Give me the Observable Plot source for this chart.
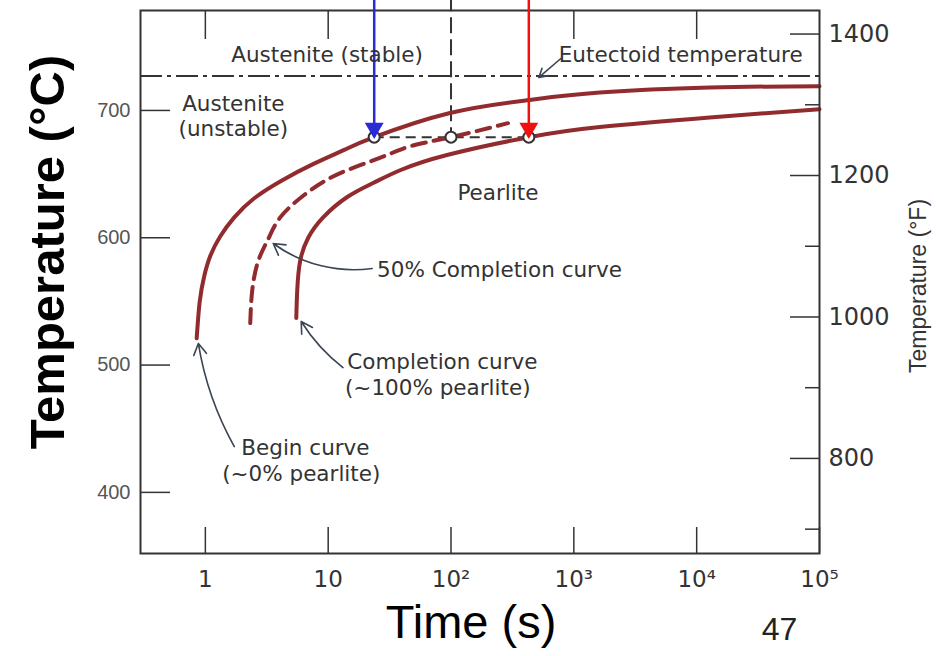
<!DOCTYPE html>
<html>
<head>
<meta charset="utf-8">
<script src="https://cdn.jsdelivr.net/npm/d3@7"></script>
<script src="https://cdn.jsdelivr.net/npm/@observablehq/plot@0.6"></script>
<style>
  html, body { margin: 0; padding: 0; background: white; }
</style>
</head>
<body>
<div id="chart"></div>
<script>
// ---- axes ----
const timeTicks = [1, 10, 100, 1000, 10000, 100000];
const timeTickLabels = ["1", "10", "10²", "10³", "10⁴", "10⁵"];
const topTicks = [1, 10, 1000, 10000];
const celsiusTicks = [400, 500, 600, 700];
const fahrenheitMajor = [800, 1000, 1200, 1400];
const fahrenheitMinor = [700, 900, 1100, 1300];

// ---- curves (time s, temperature °C) ----
const beginTime = [0.85, 0.9, 0.98, 1.1, 1.32, 1.72, 2.5, 4.2, 7.6, 13.5, 23.7, 98, 415, 1626, 12760, 100000];
const beginTemp = [521, 550, 570, 586, 601, 616, 631, 645, 658, 669, 679, 698, 708, 714, 718, 719];
const halfTime = [2.32, 2.41, 2.70, 3.25, 4.07, 6.26, 10.4, 18.2, 30.2, 49, 100, 291];
const halfTemp = [533, 559, 582, 599, 616, 633, 647, 657, 665, 672.5, 679, 690];
const endTime = [5.5, 5.6, 5.92, 6.88, 9.1, 14.3, 23.2, 38.5, 92.8, 430, 1626, 12760, 100000];
const endTemp = [537, 559, 582, 600, 616, 632, 643, 653, 665, 679, 687, 694.5, 701];

// ---- isothermal path ----
const eutectoidTemp = 727;
const isothermTemp = 679;
const isothermTimes = [23.7, 100, 430];
const arrowTop = 790;
const markerTimes = [23.7, 430];
const markerColors = ["#2a2ad6", "#f01010"];

// ---- annotations ----
const labelText = ["Austenite (stable)", "Eutectoid temperature", "Austenite", "(unstable)", "Pearlite"];
const labelTime = [9.8, 7413, 1.69, 1.69, 241];
const labelTemp = [743.2, 743.2, 704.7, 685.1, 634.8];
const noteText = ["50% Completion curve", "Completion curve", "(~100% pearlite)", "Begin curve", "(~0% pearlite)"];
const noteTime = [25, 14.3, 13.7, 1.96, 1.37];
const noteTemp = [574.3, 502, 481.6, 434.5, 414];
const pointerFromTime = [784, 22.8, 13.2, 1.72];
const pointerFromTemp = [740.8, 575.9, 498, 436];
const pointerToTime = [519, 3.57, 6.03, 0.877];
const pointerToTemp = [725.9, 595.5, 534.2, 517];
const pointerBend = [0, 22, 10, 10];

const curveColor = "#922b2e";
const ink = "#333";
const toPts = (ts, cs) => ts.map((t, i) => ({t, c: cs[i]}));
const cToF = c => c * 9 / 5 + 32;
const fToC = f => (f - 32) * 5 / 9;

const labels = labelText.map((s, i) => ({s, t: labelTime[i], c: labelTemp[i]}));
const notes = noteText.map((s, i) => ({s, t: noteTime[i], c: noteTemp[i]}));
const pointers = pointerFromTime.map((t, i) => ({
  t1: t, c1: pointerFromTemp[i], t2: pointerToTime[i], c2: pointerToTemp[i], bend: pointerBend[i]
}));
const markers = markerTimes.map((t, i) => ({t, color: markerColors[i]}));

const chart = Plot.plot({
  width: 938,
  height: 656,
  marginLeft: 140,
  marginRight: 119,
  marginTop: 10,
  marginBottom: 103,
  style: {fontFamily: "DejaVu Sans", fontSize: "18px", background: "white", overflow: "visible"},
  x: {type: "log", domain: [Math.pow(10, -0.528), 100000], label: null},
  y: {domain: [352, 778.5], label: null},
  marks: [
    // eutectoid line
    Plot.ruleY([eutectoidTemp], {stroke: ink, strokeWidth: 2, strokeDasharray: "22,5,4,5"}),
    // isothermal dashed path
    Plot.ruleX([isothermTimes[1]], {y1: arrowTop, y2: isothermTemp, stroke: ink, strokeWidth: 2, strokeDasharray: "16,6"}),
    Plot.ruleY([isothermTemp], {x1: isothermTimes[0], x2: isothermTimes[2], stroke: ink, strokeWidth: 2, strokeDasharray: "10,6"}),
    // curves
    Plot.line(toPts(beginTime, beginTemp), {x: "t", y: "c", stroke: curveColor, strokeWidth: 4, curve: "natural"}),
    Plot.line(toPts(halfTime, halfTemp), {x: "t", y: "c", stroke: curveColor, strokeWidth: 4, curve: "natural", strokeDasharray: "14,8"}),
    Plot.line(toPts(endTime, endTemp), {x: "t", y: "c", stroke: curveColor, strokeWidth: 4, curve: "natural"}),
    Plot.dot(isothermTimes, {x: d => d, y: () => isothermTemp, r: 5.5, fill: "white", stroke: ink, strokeWidth: 2}),
    // frame
    Plot.frame({stroke: ink, strokeWidth: 2}),
    // left axis
    Plot.axisY(celsiusTicks, {anchor: "left", tickSize: -30, tickFormat: () => "", stroke: ink, strokeWidth: 1.5}),
    Plot.axisY(celsiusTicks, {anchor: "left", tickSize: 0, tickPadding: 10, fontSize: 20, fontFamily: "Liberation Sans", color: "#555"}),
    // bottom / top axis
    Plot.axisX(timeTicks, {anchor: "bottom", tickSize: -26, tickFormat: () => "", stroke: ink, strokeWidth: 1.5}),
    Plot.axisX(timeTicks, {anchor: "bottom", tickSize: 0, tickPadding: 17, fontSize: 23, color: "#333",
      tickFormat: d => timeTickLabels[timeTicks.indexOf(d)]}),
    Plot.axisX(topTicks, {anchor: "top", tickSize: -28, tickFormat: () => "", stroke: ink, strokeWidth: 1.5}),
    // right axis (°F)
    Plot.axisY(fahrenheitMajor.map(fToC), {anchor: "right", tickSize: -30, tickFormat: () => "", stroke: ink, strokeWidth: 1.5}),
    Plot.axisY(fahrenheitMinor.map(fToC), {anchor: "right", tickSize: -15, tickFormat: () => "", stroke: ink, strokeWidth: 1.5}),
    Plot.axisY(fahrenheitMajor.map(fToC), {anchor: "right", tickSize: 0, tickPadding: 9, fontSize: 24, color: "#333",
      tickFormat: c => String(Math.round(cToF(c)))}),
    // markers (blue / red arrows)
    Plot.ruleX(markers, {x: "t", y1: arrowTop, y2: isothermTemp, stroke: "color", strokeWidth: 2.5}),
    Plot.dot(markers, {x: "t", y: () => isothermTemp, symbol: "triangle", rotate: 180, r: 7, dy: -9, fill: "color", stroke: "none"}),
    // annotation text
    Plot.text(labels, {x: "t", y: "c", text: "s", fontSize: 21.5, fill: ink}),
    Plot.text(notes, {x: "t", y: "c", text: "s", fontSize: 21.5, fill: ink, textAnchor: "start"}),
    ...pointers.map(p => Plot.arrow([p], {x1: "t1", y1: "c1", x2: "t2", y2: "c2", bend: p.bend, stroke: "#3b4454", strokeWidth: 1.6, headLength: 12})),
    // titles
    Plot.text(["Temperature (°C)"], {frameAnchor: "left", textAnchor: "middle", dx: -92, dy: -30, rotate: -90, fontSize: 49, fontWeight: "bold", fontFamily: "Liberation Sans", fill: "black"}),
    Plot.text(["Temperature (°F)"], {frameAnchor: "right", textAnchor: "middle", dx: 99, dy: 4, rotate: -90, fontSize: 23, fontFamily: "Liberation Sans", fill: ink}),
    Plot.text(["Time (s)"], {frameAnchor: "bottom", dx: -9, dy: 84, fontSize: 47, fontFamily: "Liberation Sans", fill: "black"}),
    Plot.text(["47"], {frameAnchor: "bottom-right", textAnchor: "middle", dx: -40, dy: 86, fontSize: 32, fontFamily: "Liberation Sans", fill: "#222"})
  ]
});
document.getElementById("chart").appendChild(chart);
</script>
</body>
</html>
